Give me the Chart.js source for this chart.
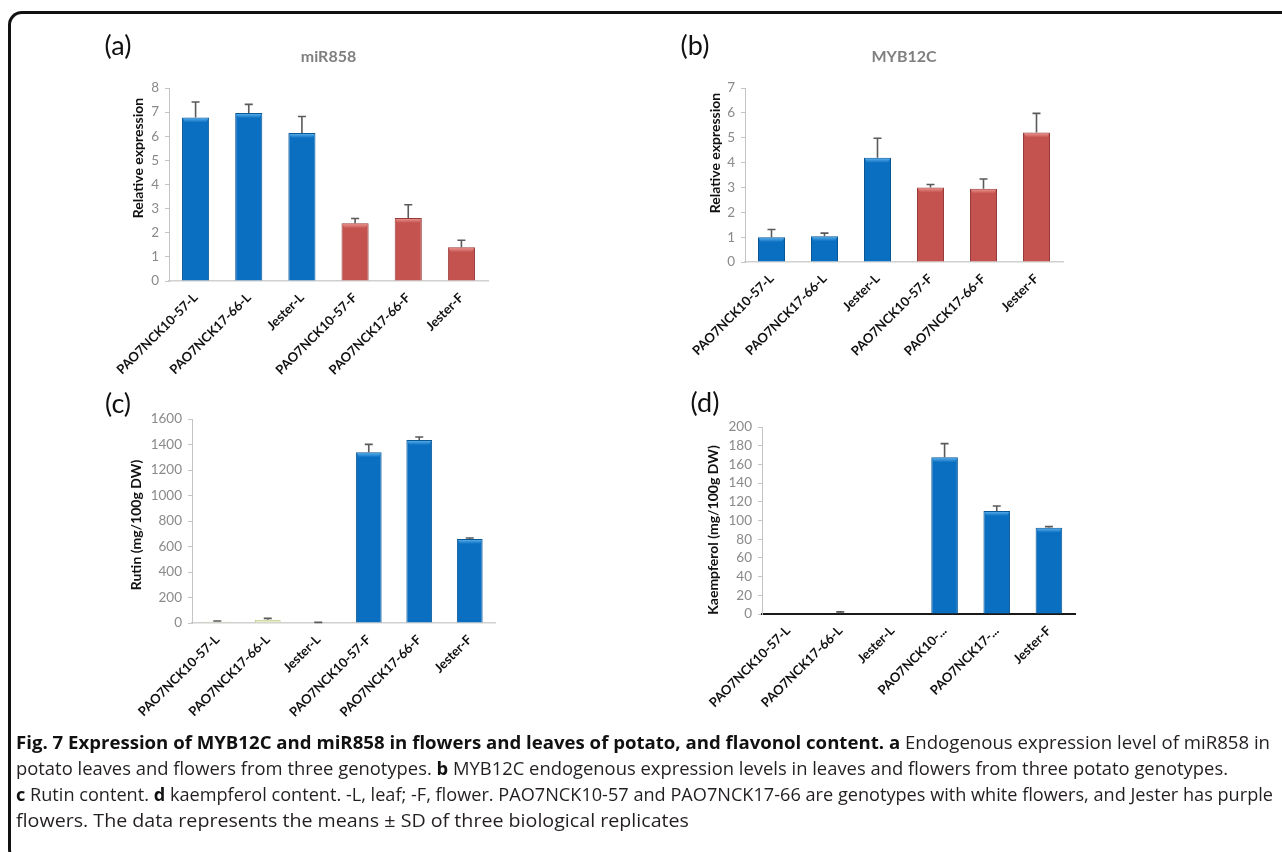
<!DOCTYPE html>
<html>
<head>
<meta charset="utf-8">
<title>Fig. 7 – MYB12C, miR858 and flavonol content</title>
<script src="https://cdn.jsdelivr.net/npm/chart.js@4/dist/chart.umd.min.js"></script>
<style>
  html, body { margin: 0; padding: 0; background: #fff; }
  body { width: 1282px; height: 852px; overflow: hidden; position: relative; font-family: Lato, "Open Sans", sans-serif; }
  .frame { position: absolute; left: 8px; top: 11px; width: 1320px; height: 852px;
           border-top: 3px solid #111; border-left: 3px solid #111;
           border-top-left-radius: 14px; border-bottom-left-radius: 14px; box-sizing: border-box; }
  canvas { position: absolute; }
  .tag { position: absolute; font: 27px Lato, sans-serif; color: #111; transform: translate(-50%, -50%); white-space: nowrap; }
  .caption { position: absolute; left: 16px; top: 729px; font-family: "Open Sans", sans-serif; font-size: 18.5px; color: #231f20; }
  .caption div { white-space: nowrap; height: 26px; line-height: 26px; width: max-content; transform-origin: 0 50%; }
  .caption b { font-weight: 700; color: #111; }
</style>
</head>
<body>
<div class="frame"></div>

<canvas id="chartA" width="640" height="390" style="left:0;top:0"></canvas>
<canvas id="chartB" width="642" height="390" style="left:640px;top:0"></canvas>
<canvas id="chartC" width="640" height="340" style="left:0;top:390px"></canvas>
<canvas id="chartD" width="642" height="340" style="left:640px;top:390px"></canvas>

<div class="tag" style="left:118px;top:44px">(a)</div>
<div class="tag" style="left:695px;top:44px">(b)</div>
<div class="tag" style="left:118px;top:402px">(c)</div>
<div class="tag" style="left:705px;top:401px">(d)</div>

<div class="caption" id="caption">
  <div data-w="1254"><b>Fig. 7 Expression of MYB12C and miR858 in flowers and leaves of potato, and flavonol content. a</b> Endogenous expression level of miR858 in</div>
  <div data-w="1212">potato leaves and flowers from three genotypes. <b>b</b> MYB12C endogenous expression levels in leaves and flowers from three potato genotypes.</div>
  <div data-w="1257"><b>c</b> Rutin content. <b>d</b> kaempferol content. -L, leaf; -F, flower. PAO7NCK10-57 and PAO7NCK17-66 are genotypes with white flowers, and Jester has purple</div>
  <div data-w="673">flowers. The data represents the means ± SD of three biological replicates</div>
</div>

<script>
// ---- data -------------------------------------------------------------
const categories = ['PAO7NCK10-57-L', 'PAO7NCK17-66-L', 'Jester-L', 'PAO7NCK10-57-F', 'PAO7NCK17-66-F', 'Jester-F'];
const categoriesKaempferol = ['PAO7NCK10-57-L', 'PAO7NCK17-66-L', 'Jester-L', 'PAO7NCK10-...', 'PAO7NCK17-...', 'Jester-F'];

// (a) miR858 relative expression, mean and SD
const mir858Mean = [6.78, 6.96, 6.13, 2.39, 2.61, 1.40];
const mir858Sd   = [0.64, 0.36, 0.69, 0.20, 0.55, 0.29];

// (b) MYB12C relative expression, mean and SD
const myb12cMean = [1.00, 1.04, 4.19, 3.00, 2.95, 5.21];
const myb12cSd   = [0.31, 0.12, 0.79, 0.12, 0.39, 0.77];

// (c) rutin, mg/100g DW
const rutinMean = [9, 26, 3, 1339, 1435, 659];
const rutinSd   = [7, 10, 2, 62, 24, 8];

// (d) kaempferol, mg/100g DW
const kaempferolMean = [0, 0.8, 0, 167.6, 110.2, 92.3];
const kaempferolSd   = [0, 1.5, 0, 14.6, 5.3, 1.1];

// y-axis ranges: [max, step]
const rangeA = [8, 1];
const rangeB = [7, 1];
const rangeC = [1600, 200];
const rangeD = [200, 20];

// ---- styles -----------------------------------------------------------
const BLUE = { fill: '#0b6fc1', edge: '#0a5796', light: '#63b8f0' };
const RED  = { fill: '#c4524f', edge: '#973b39', light: '#ef9c98' };
const PALE = { fill: '#e4ecc6', edge: '#bccb88', light: '#f5f8e8' };

// Upper error bars (mean + SD) with a small cap
const errorBarsPlugin = {
  id: 'errorBars',
  afterDatasetsDraw(chart, args, opts) {
    const { ctx } = chart;
    const y = chart.scales.y;
    const meta = chart.getDatasetMeta(0);
    const values = chart.data.datasets[0].data;
    ctx.save();
    ctx.strokeStyle = opts.color || '#555';
    ctx.lineWidth = 1.6;
    meta.data.forEach((bar, i) => {
      const sd = opts.sd[i];
      if (!sd) return;
      const yTop = y.getPixelForValue(values[i] + sd);
      const yBase = y.getPixelForValue(values[i]);
      ctx.beginPath();
      ctx.moveTo(bar.x, yBase);
      ctx.lineTo(bar.x, yTop);
      ctx.moveTo(bar.x - 4, yTop);
      ctx.lineTo(bar.x + 4, yTop);
      ctx.stroke();
    });
    ctx.restore();
  }
};

// Light bevel along the top of each bar
const bevelPlugin = {
  id: 'bevel',
  afterDatasetsDraw(chart, args, opts) {
    const { ctx } = chart;
    const meta = chart.getDatasetMeta(0);
    ctx.save();
    meta.data.forEach((bar, i) => {
      const h = bar.base - bar.y;
      if (h < 4) return;
      const half = bar.width / 2;
      const d = Math.min(5, h / 2);
      const g = ctx.createLinearGradient(0, bar.y, 0, bar.y + d);
      g.addColorStop(0, opts.colors[i].light);
      g.addColorStop(1, opts.colors[i].fill);
      ctx.fillStyle = g;
      ctx.beginPath();
      ctx.moveTo(bar.x - half + 1, bar.y + 1);
      ctx.lineTo(bar.x + half - 1, bar.y + 1);
      ctx.lineTo(bar.x + half - 3, bar.y + d);
      ctx.lineTo(bar.x - half + 3, bar.y + d);
      ctx.closePath();
      ctx.fill();
    });
    ctx.restore();
  }
};

// Chart heading and rotated y-axis title at set positions
const panelTextPlugin = {
  id: 'panelText',
  afterDraw(chart, args, opts) {
    const { ctx, chartArea } = chart;
    ctx.save();
    if (opts.title) {
      ctx.font = 'bold 16px Lato, sans-serif';
      ctx.fillStyle = '#7f7f7f';
      ctx.textAlign = 'center';
      ctx.textBaseline = 'middle';
      ctx.fillText(opts.title, (chartArea.left + chartArea.right) / 2, opts.titleY);
    }
    ctx.translate(opts.yTitleX, opts.yTitleY);
    ctx.rotate(-Math.PI / 2);
    ctx.font = 'bold 14px Lato, sans-serif';
    ctx.fillStyle = '#111';
    ctx.textAlign = 'center';
    ctx.textBaseline = 'middle';
    ctx.fillText(opts.yTitle, 0, 0);
    ctx.restore();
  }
};

function makePanel(p) {
  const canvas = document.getElementById(p.id);
  const W = canvas.width, H = canvas.height;
  const yW = 60;
  return new Chart(canvas, {
    type: 'bar',
    data: {
      labels: p.labels,
      datasets: [{
        data: p.mean,
        backgroundColor: p.colors.map(c => c.fill),
        borderColor: p.colors.map(c => c.edge),
        borderWidth: 1,
        categoryPercentage: 1,
        barPercentage: 0.51
      }]
    },
    plugins: [errorBarsPlugin, bevelPlugin, panelTextPlugin],
    options: {
      responsive: false,
      animation: false,
      events: [],
      layout: { padding: { left: p.area.left - yW, right: W - p.area.right, top: p.area.top, bottom: 0 } },
      plugins: {
        legend: { display: false },
        tooltip: { enabled: false },
        errorBars: { sd: p.sd, color: '#5a5a5a' },
        bevel: { colors: p.colors },
        panelText: { title: p.title, titleY: p.titleY, yTitle: p.yTitle, yTitleX: p.yTitleX, yTitleY: p.yTitleY }
      },
      scales: {
        x: {
          offset: true,
          grid: { display: false, drawTicks: false },
          border: { display: true, color: p.xAxisColor, width: p.xAxisWidth },
          ticks: {
            autoSkip: false, minRotation: 45, maxRotation: 45, padding: 9,
            color: '#111', font: { family: 'Lato', weight: 'bold', size: 13 }
          },
          afterFit(s) { s.height = H - p.area.bottom; s.paddingLeft = 0; s.paddingRight = 0; }
        },
        y: {
          min: 0, max: p.range[0],
          grid: { drawOnChartArea: false, drawTicks: true, tickLength: 4, color: '#c4c4c4' },
          border: { display: true, color: '#c4c4c4', width: 1 },
          ticks: {
            stepSize: p.range[1], autoSkip: false, padding: 6, color: '#8a8a8a',
            font: { family: 'Lato', size: 13.5 },
            callback: v => String(v)
          },
          afterFit(s) { s.width = yW; s.paddingTop = 0; s.paddingBottom = 0; }
        }
      }
    }
  });
}

makePanel({
  id: 'chartA', labels: categories, mean: mir858Mean, sd: mir858Sd, range: rangeA,
  colors: [BLUE, BLUE, BLUE, RED, RED, RED],
  area: { left: 169, right: 488, top: 88, bottom: 281 },
  title: 'miR858', titleY: 57,
  yTitle: 'Relative expression', yTitleX: 138, yTitleY: 158,
  xAxisColor: '#d0d0d0', xAxisWidth: 1.5
});

makePanel({
  id: 'chartB', labels: categories, mean: myb12cMean, sd: myb12cSd, range: rangeB,
  colors: [BLUE, BLUE, BLUE, RED, RED, RED],
  area: { left: 105, right: 423, top: 88, bottom: 262 },
  title: 'MYB12C', titleY: 57,
  yTitle: 'Relative expression', yTitleX: 75, yTitleY: 153,
  xAxisColor: '#d0d0d0', xAxisWidth: 1.5
});

makePanel({
  id: 'chartC', labels: categories, mean: rutinMean, sd: rutinSd, range: rangeC,
  colors: [PALE, PALE, PALE, BLUE, BLUE, BLUE],
  area: { left: 192, right: 495, top: 29, bottom: 233 },
  title: null, titleY: 0,
  yTitle: 'Rutin (mg/100g DW)', yTitleX: 136, yTitleY: 135,
  xAxisColor: '#d0d0d0', xAxisWidth: 1.5
});

makePanel({
  id: 'chartD', labels: categoriesKaempferol, mean: kaempferolMean, sd: kaempferolSd, range: rangeD,
  colors: [BLUE, BLUE, BLUE, BLUE, BLUE, BLUE],
  area: { left: 122, right: 435, top: 37, bottom: 224 },
  title: null, titleY: 0,
  yTitle: 'Kaempferol (mg/100g DW)', yTitleX: 73, yTitleY: 140,
  xAxisColor: '#1a1a1a', xAxisWidth: 2
});

// Condense each caption line to its column width
function fitCaption() {
  document.querySelectorAll('#caption div').forEach(l => {
    l.style.transform = 'none';
    const natural = l.getBoundingClientRect().width;
    const k = Number(l.dataset.w) / natural;
    l.style.transform = 'scaleX(' + k + ')';
  });
}
fitCaption();
if (document.fonts && document.fonts.ready) document.fonts.ready.then(fitCaption);
</script>
</body>
</html>
